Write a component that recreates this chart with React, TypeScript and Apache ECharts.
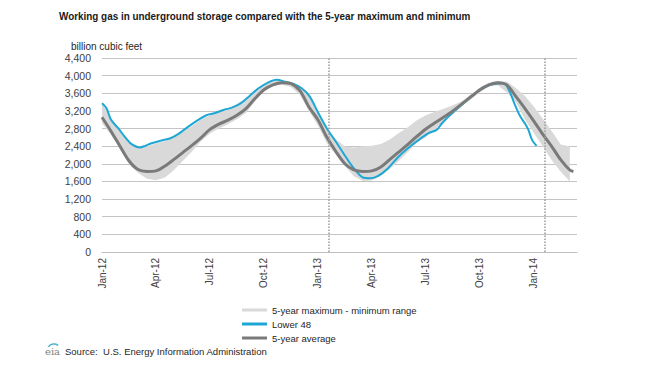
import React, { useEffect, useRef } from "react";
import * as echarts from "echarts";

// x positions are months since Jan-2012
const bandMonths = [0, 0.5, 1, 1.5, 2, 2.5, 3, 3.5, 4, 4.5, 5, 5.5, 6, 6.5, 7, 7.5, 8, 8.5, 9, 9.5, 10, 10.5, 11, 11.5, 12, 12.5, 13, 13.5, 14, 14.5, 15, 15.5, 16, 16.5, 17, 17.5, 18, 18.5, 19, 19.5, 20, 20.5, 21, 21.5, 22, 22.5, 23, 23.5, 24, 24.5, 25, 25.5, 26];
const fiveYearMin = [2918, 2660, 2350, 1990, 1800, 1660, 1625, 1690, 1860, 2070, 2280, 2510, 2690, 2800, 2900, 3010, 3150, 3420, 3650, 3760, 3800, 3740, 3560, 3200, 2870, 2460, 2200, 1950, 1720, 1610, 1620, 1730, 1880, 2070, 2270, 2480, 2600, 2780, 2960, 3120, 3310, 3460, 3620, 3760, 3780, 3620, 3400, 3010, 2700, 2400, 2080, 1820, 1600];
const fiveYearMax = [3372, 3050, 2740, 2480, 2350, 2400, 2460, 2520, 2600, 2730, 2860, 3000, 3100, 3170, 3250, 3350, 3480, 3650, 3790, 3870, 3890, 3860, 3760, 3520, 3190, 2780, 2560, 2390, 2370, 2400, 2410, 2450, 2550, 2700, 2830, 2990, 3100, 3180, 3250, 3330, 3420, 3570, 3720, 3840, 3880, 3860, 3720, 3540, 3300, 3020, 2740, 2440, 2390];
const avgMonths = [0, 0.5, 1, 1.5, 2, 2.5, 3, 3.5, 4, 4.5, 5, 5.5, 6, 6.5, 7, 7.5, 8, 8.5, 9, 9.5, 10, 10.5, 11, 11.5, 12, 12.5, 13, 13.5, 14, 14.5, 15, 15.5, 16, 16.5, 17, 17.5, 18, 18.5, 19, 19.5, 20, 20.5, 21, 21.5, 22, 22.5, 23, 23.5, 24, 24.5, 25, 25.5, 26, 26.2];
const fiveYearAvg = [3056, 2740, 2400, 2070, 1870, 1826, 1840, 1950, 2100, 2260, 2420, 2590, 2780, 2900, 2990, 3100, 3250, 3480, 3680, 3790, 3840, 3820, 3660, 3290, 3000, 2600, 2280, 2000, 1860, 1826, 1840, 1930, 2100, 2270, 2440, 2620, 2790, 2930, 3060, 3200, 3360, 3520, 3680, 3790, 3840, 3790, 3530, 3260, 2970, 2670, 2390, 2090, 1860, 1826];
const lower48Months = [0, 0.25, 0.5, 0.9, 1.25, 1.55, 1.8, 2.1, 2.4, 2.75, 3.3, 3.8, 4.25, 4.8, 5.35, 5.8, 6.25, 6.75, 7.25, 7.7, 8.2, 8.7, 9.25, 9.7, 10.2, 10.65, 11.1, 11.55, 12.0, 12.5, 13.0, 13.6, 14.0, 14.5, 14.9, 15.35, 15.9, 16.45, 17.0, 17.6, 18.15, 18.6, 18.9, 19.45, 20.1, 20.5, 21.0, 21.5, 21.9, 22.25, 22.45, 22.7, 22.95, 23.25, 23.5, 23.7, 23.9, 24.15];
const lower48 = [3372, 3260, 3000, 2807, 2620, 2480, 2410, 2370, 2407, 2467, 2528, 2580, 2680, 2845, 2996, 3102, 3147, 3222, 3280, 3370, 3540, 3713, 3849, 3905, 3860, 3810, 3713, 3524, 3170, 2800, 2500, 2125, 1898, 1690, 1675, 1727, 1901, 2150, 2354, 2543, 2694, 2769, 2920, 3147, 3373, 3520, 3670, 3780, 3815, 3826, 3789, 3600, 3336, 3071, 2920, 2769, 2543, 2407];
const quarterLabels = ["Jan-12", "Apr-12", "Jul-12", "Oct-12", "Jan-13", "Apr-13", "Jul-13", "Oct-13", "Jan-14"];
const yearMarkers = [12.62, 24.58];

const SANS = "'Liberation Sans', Arial, sans-serif";
const BAND = "#d9d9d9";
const BLUE = "#1ea7d4";
const GRAY = "#7a7a7a";

export default function App() {
  const ref = useRef<HTMLDivElement>(null);
  useEffect(() => {
    document.body.style.margin = "0";
    const chart = echarts.init(ref.current!, null, { renderer: "svg" });
    const bandName = "5-year maximum - minimum range";
    chart.setOption({
      animation: false,
      backgroundColor: "#ffffff",
      textStyle: { fontFamily: SANS },
      grid: { left: 102, right: 93, top: 58, bottom: 117, containLabel: false },
      xAxis: {
        type: "value",
        min: 0,
        max: 26.4,
        interval: 3,
        axisLine: { show: true, lineStyle: { color: "#bfbfbf", width: 1 } },
        axisTick: { show: false },
        splitLine: { show: false },
        axisLabel: {
          rotate: 90,
          margin: 6,
          fontSize: 10,
          color: "#404040",
          fontFamily: SANS,
          showMaxLabel: false,
          formatter: (v: number) => {
            const i = Math.round(v / 3);
            return Math.abs(v - i * 3) < 1e-6 && quarterLabels[i] ? quarterLabels[i] : "";
          },
        },
      },
      yAxis: {
        type: "value",
        min: 0,
        max: 4400,
        interval: 400,
        axisLine: { show: false },
        axisTick: { show: false },
        splitLine: { lineStyle: { color: "#c4c4c4", width: 1 } },
        axisLabel: {
          margin: 11,
          fontSize: 10.5,
          color: "#404040",
          fontFamily: SANS,
          formatter: (v: number) => v.toLocaleString("en-US"),
        },
      },
      legend: {
        orient: "vertical",
        left: 237,
        top: 299,
        itemWidth: 25,
        itemHeight: 3,
        itemGap: 2,
        textStyle: { fontSize: 9.5, color: "#262626", fontFamily: SANS, lineHeight: 12 },
        data: [
          { name: bandName, icon: "rect", itemStyle: { color: BAND } },
          { name: "Lower 48", icon: "rect", itemStyle: { color: BLUE } },
          { name: "5-year average", icon: "rect", itemStyle: { color: GRAY } },
        ],
      },
      series: [
        {
          name: bandName,
          type: "custom",
          silent: true,
          itemStyle: { color: BAND },
          encode: { x: 0, y: [1, 2] },
          data: bandMonths.map((m, i) => [m, fiveYearMin[i], fiveYearMax[i]]),
          renderItem: (params: any, api: any) => {
            if (params.dataIndex !== 0) return null;
            const upper: number[][] = [];
            const lower: number[][] = [];
            for (let i = 0; i < bandMonths.length; i++) {
              upper.push(api.coord([bandMonths[i], fiveYearMax[i]]));
              lower.push(api.coord([bandMonths[i], fiveYearMin[i]]));
            }
            const pts = upper.concat(lower.reverse());
            return {
              type: "polygon",
              shape: { points: pts, smooth: 0 },
              style: { fill: BAND, stroke: "none" },
            };
          },
          z: 1,
        },
        {
          name: "Lower 48",
          type: "line",
          symbol: "none",
          smooth: 0.3,
          lineStyle: { color: BLUE, width: 2 },
          itemStyle: { color: BLUE },
          data: lower48Months.map((m, i) => [m, lower48[i]]),
          z: 3,
        },
        {
          name: "5-year average",
          type: "line",
          symbol: "none",
          smooth: 0.3,
          lineStyle: { color: GRAY, width: 3 },
          itemStyle: { color: GRAY },
          data: avgMonths.map((m, i) => [m, fiveYearAvg[i]]),
          z: 4,
          markLine: {
            silent: true,
            symbol: "none",
            label: { show: false },
            lineStyle: { color: "#9a9a9a", type: "dotted", width: 1.5 },
            data: yearMarkers.map((x) => ({ xAxis: x })),
          },
        },
      ],
      graphic: [
        {
          type: "text",
          x: 59,
          y: 11,
          scaleX: 0.9,
          style: {
            text: "Working gas in underground storage compared with the 5-year maximum and minimum",
            fontSize: 11,
            fontWeight: "bold",
            fontFamily: SANS,
            fill: "#1a1a1a",
          },
        },
        {
          type: "text",
          left: 71,
          top: 41,
          style: { text: "billion cubic feet", fontSize: 10, fontFamily: SANS, fill: "#262626" },
        },
        {
          type: "text",
          left: 65,
          top: 346,
          style: { text: "Source:  U.S. Energy Information Administration", fontSize: 9.5, fontFamily: SANS, fill: "#262626" },
        },
        {
          type: "text",
          left: 45,
          top: 346,
          style: { text: "eia", fontSize: 10, fontFamily: "'DejaVu Serif', serif", fill: "#808080" },
        },
        {
          type: "arc",
          shape: { cx: 54, cy: 351, r: 7, startAngle: -Math.PI * 0.8, endAngle: -Math.PI * 0.3 },
          style: { stroke: "#4fb3c9", lineWidth: 1.5, fill: "none" },
        },
      ],
    });
    return () => chart.dispose();
  }, []);
  return <div ref={ref} style={{ width: 670, height: 369 }} />;
}
